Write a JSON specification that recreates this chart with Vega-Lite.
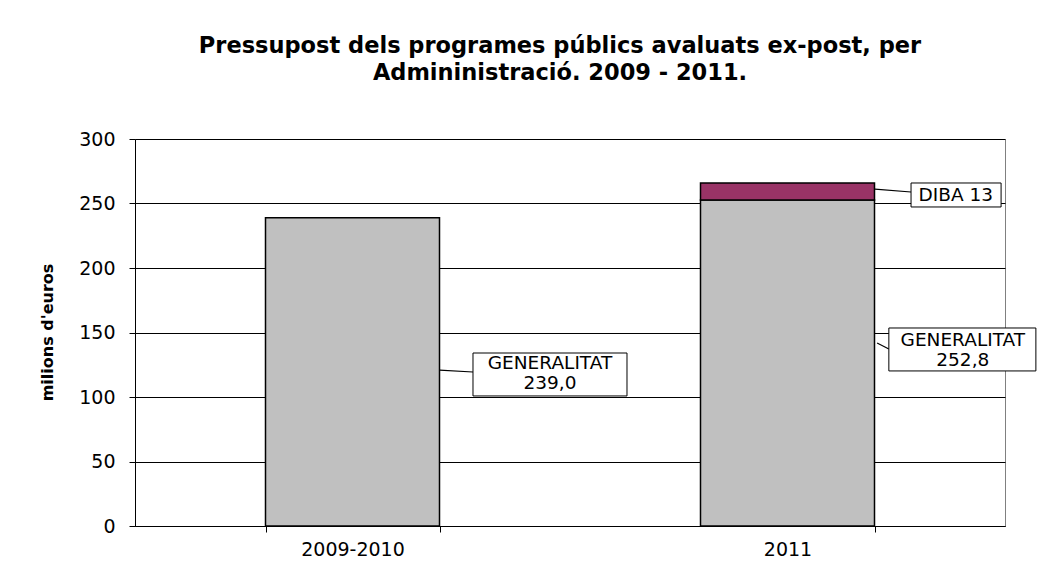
{
  "$schema": "https://vega.github.io/schema/vega-lite/v6.json",
  "autosize": "none",
  "width": 870,
  "height": 387,
  "padding": {"left": 135, "top": 139, "right": 37, "bottom": 52},
  "background": "white",
  "config": {
    "font": "DejaVu Sans",
    "view": {"stroke": "#808080", "strokeWidth": 1},
    "axis": {"labelFont": "DejaVu Sans", "titleFont": "DejaVu Sans", "labelColor": "#000", "titleColor": "#000"}
  },
  "title": {
    "text": ["Pressupost dels programes públics avaluats ex-post, per", "Admininistració. 2009 - 2011."],
    "font": "DejaVu Sans",
    "fontSize": 22.5,
    "fontWeight": "bold",
    "color": "#000",
    "anchor": "middle",
    "lineHeight": 27,
    "offset": 46,
    "dx": -10
  },
  "datasets": {
    "bars": [
      {"periode": "2009-2010", "admin": "GENERALITAT", "ordre": 1, "valor": 239.0},
      {"periode": "2011", "admin": "GENERALITAT", "ordre": 1, "valor": 252.8},
      {"periode": "2011", "admin": "DIBA", "ordre": 2, "valor": 13}
    ],
    "boxes": [
      {"u1": 0.777, "u2": 1.131, "v1": 134.1, "v2": 100.8},
      {"u1": 1.733, "u2": 2.071, "v1": 153.5, "v2": 120.2},
      {"u1": 1.784, "u2": 1.991, "v1": 265.9, "v2": 247.3}
    ],
    "leaders": [
      {"u1": 0.70, "u2": 0.777, "v1": 120.9, "v2": 119.4},
      {"u1": 1.706, "u2": 1.733, "v1": 141.9, "v2": 137.2},
      {"u1": 1.701, "u2": 1.784, "v1": 261.2, "v2": 258.9}
    ],
    "labels": [
      {"u": 0.954, "v": 126.4, "etiqueta": "GENERALITAT\n239,0"},
      {"u": 1.903, "v": 144.2, "etiqueta": "GENERALITAT\n252,8"},
      {"u": 1.887, "v": 256.6, "etiqueta": "DIBA 13"}
    ]
  },
  "layer": [
    {
      "data": {"name": "bars"},
      "mark": {"type": "bar", "stroke": "#000", "strokeWidth": 1.5},
      "encoding": {
        "x": {
          "field": "periode", "type": "nominal", "sort": ["2009-2010", "2011"],
          "scale": {"paddingInner": 0.6, "paddingOuter": 0.3},
          "axis": {
            "title": null, "labelAngle": 0, "labelFontSize": 19, "labelPadding": 8,
            "tickBand": "extent", "tickSize": 6, "tickColor": "#000",
            "domainColor": "#000", "grid": false
          }
        },
        "y": {
          "field": "valor", "type": "quantitative", "stack": "zero",
          "scale": {"domain": [0, 300], "nice": false},
          "axis": {
            "title": "milions d'euros", "titleFontSize": 16, "titleFontWeight": "bold",
            "titleX": -88, "titleY": 193, "titleAngle": -90, "titleAlign": "center", "titleBaseline": "middle",
            "values": [0, 50, 100, 150, 200, 250, 300],
            "labelFontSize": 19, "labelPadding": 14, "tickSize": 6, "tickColor": "#000",
            "domainColor": "#000", "grid": true, "gridColor": "#000", "gridWidth": 1
          }
        },
        "color": {
          "field": "admin", "type": "nominal",
          "scale": {"domain": ["GENERALITAT", "DIBA"], "range": ["#C0C0C0", "#993366"]},
          "legend": null
        },
        "order": {"field": "ordre", "type": "quantitative"}
      }
    },
    {
      "data": {"name": "leaders"},
      "mark": {"type": "rule", "color": "#000", "strokeWidth": 1.2},
      "encoding": {
        "x": {"field": "u1", "type": "quantitative", "scale": {"domain": [0, 2], "nice": false, "zero": false}, "axis": null},
        "x2": {"field": "u2"},
        "y": {"field": "v1", "type": "quantitative"},
        "y2": {"field": "v2"}
      }
    },
    {
      "data": {"name": "boxes"},
      "mark": {"type": "rect", "fill": "white", "stroke": "#000", "strokeWidth": 1},
      "encoding": {
        "x": {"field": "u1", "type": "quantitative", "scale": {"domain": [0, 2], "nice": false, "zero": false}, "axis": null},
        "x2": {"field": "u2"},
        "y": {"field": "v1", "type": "quantitative"},
        "y2": {"field": "v2"}
      }
    },
    {
      "data": {"name": "labels"},
      "mark": {"type": "text", "font": "DejaVu Sans", "fontSize": 18.5, "color": "#000", "align": "center", "baseline": "middle", "lineBreak": "\n", "lineHeight": 20},
      "encoding": {
        "x": {"field": "u", "type": "quantitative", "scale": {"domain": [0, 2], "nice": false, "zero": false}, "axis": null},
        "y": {"field": "v", "type": "quantitative"},
        "text": {"field": "etiqueta"}
      }
    }
  ],
  "resolve": {"scale": {"x": "independent"}, "axis": {"x": "independent"}}
}
